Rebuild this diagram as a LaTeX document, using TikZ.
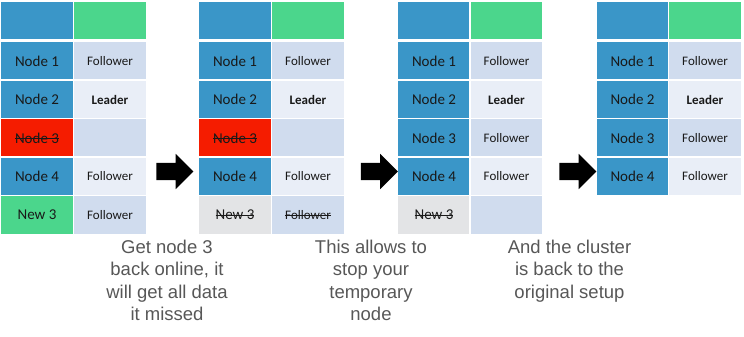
\documentclass[tikz,border=0pt]{standalone}
\usepackage{fontspec}
\setmainfont{Carlito}
\newfontfamily\capfont{Liberation Sans}
\usetikzlibrary{shapes.arrows}

\definecolor{nodeblue}{HTML}{3A96C8}
\definecolor{nodegreen}{HTML}{4BD68C}
\definecolor{nodered}{HTML}{F51C00}
\definecolor{nodegrey}{HTML}{E3E4E6}
\definecolor{roledark}{HTML}{D0DCEE}
\definecolor{rolelight}{HTML}{E9EEF7}
\definecolor{capgray}{HTML}{575757}

\newsavebox\strikebox
\newcommand\strikeout[1]{\sbox\strikebox{#1}\rlap{\usebox\strikebox}\rule[0.28em]{\wd\strikebox}{0.7pt}}

\begin{document}
\begin{tikzpicture}[
  x=1pt, y=-1pt,
  cell/.style={rectangle, draw=white, line width=1.2pt, minimum width=73pt,
    minimum height=39pt, inner sep=0pt, text=black!90},
  head/.style={cell, minimum height=38pt},
  namecell/.style={cell, fill=nodeblue, font=\fontsize{15}{18}\selectfont},
  roleodd/.style={cell, fill=roledark, font=\fontsize{13}{16}\selectfont},
  roleeven/.style={cell, fill=rolelight, font=\fontsize{13}{16}\selectfont},
  bigarrow/.style={single arrow, fill=black, inner xsep=0pt, inner ysep=8.5pt,
    minimum height=37pt, single arrow head extend=9pt, outer sep=0pt},
  note/.style={font=\capfont\fontsize{18.5}{22.3}\selectfont, text=capgray,
    align=center, anchor=north, inner sep=0pt}
]
  \useasboundingbox (0,0) rectangle (744,337);

  % first table: node 3 is down, new 3 stands in
  \node[head, fill=nodeblue] (t1h1) at (37,20.5) {};
  \node[head, fill=nodegreen] (t1h2) at (110,20.5) {};
  \node[namecell] (t1n1) at (37,61) {Node 1};
  \node[roleodd] (t1r1) at (110,61) {Follower};
  \node[namecell] (t1n2) at (37,99.5) {Node 2};
  \node[roleeven] (t1r2) at (110,99.5) {\textbf{Leader}};
  \node[namecell, fill=nodered] (t1n3) at (37,138) {\strikeout{Node 3}};
  \node[roleodd] (t1r3) at (110,138) {};
  \node[namecell] (t1n4) at (37,176.5) {Node 4};
  \node[roleeven] (t1r4) at (110,176.5) {Follower};
  \node[namecell, fill=nodegreen] (t1n5) at (37,215) {New 3};
  \node[roleodd] (t1r5) at (110,215) {Follower};

  % second table
  \node[head, fill=nodeblue] (t2h1) at (235,20.5) {};
  \node[head, fill=nodegreen] (t2h2) at (308,20.5) {};
  \node[namecell] (t2n1) at (235,61) {Node 1};
  \node[roleodd] (t2r1) at (308,61) {Follower};
  \node[namecell] (t2n2) at (235,99.5) {Node 2};
  \node[roleeven] (t2r2) at (308,99.5) {\textbf{Leader}};
  \node[namecell, fill=nodered] (t2n3) at (235,138) {\strikeout{Node 3}};
  \node[roleodd] (t2r3) at (308,138) {};
  \node[namecell] (t2n4) at (235,176.5) {Node 4};
  \node[roleeven] (t2r4) at (308,176.5) {Follower};
  \node[namecell, fill=nodegrey] (t2n5) at (235,215) {\strikeout{New 3}};
  \node[roleodd] (t2r5) at (308,215) {\strikeout{Follower}};

  % third table
  \node[head, fill=nodeblue] (t3h1) at (434,20.5) {};
  \node[head, fill=nodegreen] (t3h2) at (506.5,20.5) {};
  \node[namecell] (t3n1) at (434,61) {Node 1};
  \node[roleodd] (t3r1) at (506.5,61) {Follower};
  \node[namecell] (t3n2) at (434,99.5) {Node 2};
  \node[roleeven] (t3r2) at (506.5,99.5) {\textbf{Leader}};
  \node[namecell] (t3n3) at (434,138) {Node 3};
  \node[roleodd] (t3r3) at (506.5,138) {Follower};
  \node[namecell] (t3n4) at (434,176.5) {Node 4};
  \node[roleeven] (t3r4) at (506.5,176.5) {Follower};
  \node[namecell, fill=nodegrey] (t3n5) at (434,215) {\strikeout{New 3}};
  \node[roleodd] (t3r5) at (506.5,215) {};

  % fourth table: back to the original setup
  \node[head, fill=nodeblue] (t4h1) at (632.5,20.5) {};
  \node[head, fill=nodegreen] (t4h2) at (705,20.5) {};
  \node[namecell] (t4n1) at (632.5,61) {Node 1};
  \node[roleodd] (t4r1) at (705,61) {Follower};
  \node[namecell] (t4n2) at (632.5,99.5) {Node 2};
  \node[roleeven] (t4r2) at (705,99.5) {\textbf{Leader}};
  \node[namecell] (t4n3) at (632.5,138) {Node 3};
  \node[roleodd] (t4r3) at (705,138) {Follower};
  \node[namecell] (t4n4) at (632.5,176.5) {Node 4};
  \node[roleeven] (t4r4) at (705,176.5) {Follower};

  % arrows between the steps
  \node[bigarrow] (arr1) at (170.5,171.5) {};
  \node[bigarrow] (arr2) at (375,171.5) {};
  \node[bigarrow] (arr3) at (573.5,171.5) {};

  % captions
  \node[note] (cap1) at (167,240) {Get node 3\\back online, it\\will get all data\\it missed};
  \node[note] (cap2) at (371,240) {This allows to\\stop your\\temporary\\node};
  \node[note] (cap3) at (569.5,240) {And the cluster\\is back to the\\original setup};
\end{tikzpicture}
\end{document}
